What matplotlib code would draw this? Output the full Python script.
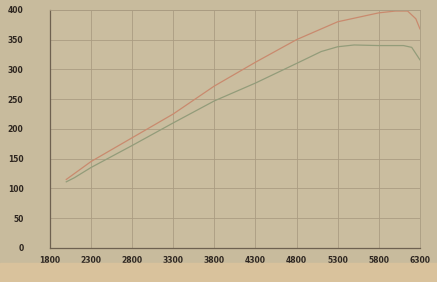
import matplotlib.pyplot as plt
from matplotlib.patches import Rectangle

# dyno curves
rpm_red = [2000, 2100, 2300, 2800, 3300, 3800, 4300, 4800, 5300, 5800, 6000, 6150, 6250, 6300]
red = [115, 125, 145, 185, 225, 272, 312, 350, 380, 395, 398, 398, 385, 368]
rpm_green = [2000, 2100, 2300, 2800, 3300, 3800, 4300, 4800, 5100, 5300, 5500, 5800, 6100, 6200, 6300]
green = [111, 118, 135, 172, 210, 247, 277, 310, 330, 338, 341, 340, 340, 337, 316]

xticks = [1800, 2300, 2800, 3300, 3800, 4300, 4800, 5300, 5800, 6300]
yticks = [0, 50, 100, 150, 200, 250, 300, 350, 400]

fig = plt.figure(figsize=(4.37, 2.82), dpi=100)
fig.patch.set_facecolor('#c8bb9d')
# table showing below the sheet
fig.patches.append(Rectangle((0, 0), 1, 0.068, transform=fig.transFigure,
                             color='#d9c29c', zorder=0))
ax = fig.add_axes([0.114, 0.121, 0.847, 0.844])
ax.set_facecolor('#cabd9f')

ax.plot(rpm_red, red, color='#c98a6e', lw=0.9)
ax.plot(rpm_green, green, color='#939c7a', lw=0.9)

ax.set_xlim(1800, 6300)
ax.set_ylim(0, 400)
ax.set_xticks(xticks)
ax.set_yticks(yticks)
ax.set_xticklabels([str(t) for t in xticks], fontsize=5.5, fontweight='bold', color='#2e2620')
ax.set_yticklabels([str(t) for t in yticks], fontsize=5.5, fontweight='bold', color='#2e2620')
ax.tick_params(axis='y', length=0, pad=19)
ax.tick_params(axis='x', length=0, pad=6)
ax.grid(True, color='#aa9c82', lw=0.6)
for s in ['top', 'right']:
    ax.spines[s].set_color('#aa9c82')
    ax.spines[s].set_linewidth(0.6)
for s in ['left', 'bottom']:
    ax.spines[s].set_color('#6e6150')
    ax.spines[s].set_linewidth(0.9)
ax.set_xlabel('Régime [Tr/Min.]', fontsize=5.5, fontweight='bold', color='#2e2620', labelpad=4)

plt.savefig('out.png', dpi=100, facecolor=fig.get_facecolor())
